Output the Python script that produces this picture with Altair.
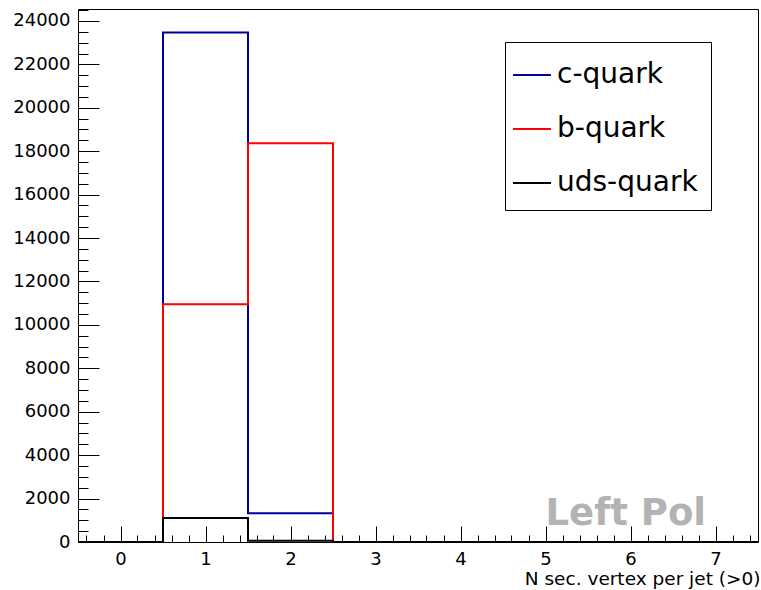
import altair as alt
import pandas as pd

# ---- data ----
bin_edges = [-0.5, 0.5, 1.5, 2.5, 3.5, 4.5, 5.5, 6.5, 7.5]
series_names = ["c-quark", "b-quark", "uds-quark"]
c_quark = [0, 23470, 1320, 0, 0, 0, 0, 0]
b_quark = [0, 10950, 18370, 0, 0, 0, 0, 0]
uds_quark = [0, 1100, 60, 0, 0, 0, 0, 0]
series_colors = ["#0000a0", "#ff0000", "#000000"]

x_major_ticks = [0, 1, 2, 3, 4, 5, 6, 7]
x_minor_ticks = [round(-0.4 + 0.2 * i, 1) for i in range(40)]
y_major_ticks = list(range(0, 24001, 2000))
y_minor_ticks = list(range(0, 24501, 500))

x_title = "N sec. vertex per jet (>0)"
annot_text = ["Left Pol"]
annot_x = [5.0]
annot_y = [760]

FONT = "DejaVu Sans"

# ---- build tables ----
rows = []
for name, vals in zip(series_names, [c_quark, b_quark, uds_quark]):
    for i, e in enumerate(bin_edges):
        v = vals[i] if i < len(vals) else vals[-1]
        rows.append({"series": name, "edge": e, "value": v})
df = pd.DataFrame(rows)
annot_df = pd.DataFrame({"t": annot_text, "x": annot_x, "y": annot_y})

W, H = 680, 533
x_scale = alt.Scale(domain=[-0.5, 7.5], nice=False, zero=False)
y_scale = alt.Scale(domain=[0, 24550], nice=False, zero=False)
color_scale = alt.Scale(domain=series_names, range=series_colors)

x_bottom = alt.Axis(
    orient="bottom", offset=-7, values=x_minor_ticks, tickSize=7, tickWidth=1,
    tickColor="black", domain=False, grid=False, labelOverlap=False, labelFlush=False,
    labelExpr="abs(datum.value - round(datum.value)) < 0.001 ? format(datum.value, 'd') : ''",
    labelPadding=8, labelFont=FONT, labelFontSize=18, labelColor="black",
    title=x_title, titleFont=FONT, titleFontSize=18.5, titleFontWeight="normal",
    titleColor="black", titleAnchor="end", titleAlign="right", titleBaseline="alphabetic",
    titleX=682, titleY=49,
)
y_left = alt.Axis(
    orient="left", offset=-10, values=y_minor_ticks, tickSize=10, tickWidth=1,
    tickColor="black", domain=False, grid=False, labelOverlap=False, labelFlush=False,
    labelExpr="datum.value % 2000 === 0 ? format(datum.value, 'd') : ''",
    labelPadding=8, labelFont=FONT, labelFontSize=18, labelColor="black",
    title=None,
)
x_top = alt.Axis(
    orient="top", offset=-H, values=x_major_ticks, tickSize=16, tickWidth=1,
    tickColor="black", domain=False, grid=False, labels=False, title=None,
)
y_right = alt.Axis(
    orient="right", offset=-W, values=y_major_ticks, tickSize=21, tickWidth=1,
    tickColor="black", domain=False, grid=False, labels=False, title=None,
)

legend = alt.Legend(
    title=None, orient="none", legendX=427, legendY=33, padding=13,
    strokeColor="black", fillColor="white", symbolType="stroke", symbolSize=1444,
    symbolStrokeWidth=2, symbolOffset=-6, labelFont=FONT,
    labelFontSize=28, labelColor="black", labelOffset=5, rowPadding=20, labelLimit=0,
)

base = alt.Chart(df)
layers = []
for i, name in enumerate(series_names):
    first = i == 0
    enc = dict(
        x=alt.X("edge:Q", scale=x_scale, axis=x_bottom) if first else alt.X("edge:Q", scale=x_scale, axis=None),
        y=alt.Y("value:Q", scale=y_scale, axis=y_left) if first else alt.Y("value:Q", scale=y_scale, axis=None),
        color=alt.Color("series:N", scale=color_scale, legend=legend),
    )
    layers.append(
        base.transform_filter(alt.datum.series == name)
        .mark_line(interpolate="step-after", strokeWidth=2)
        .encode(**enc)
    )

tick_layer = base.mark_line(opacity=0).encode(
    x=alt.X("edge:Q", scale=x_scale, axis=x_top),
    y=alt.Y("value:Q", scale=y_scale, axis=y_right),
    detail="series:N",
)

annot = alt.Chart(annot_df).mark_text(
    font="DejaVu Sans", fontWeight="bold", fontSize=37, color="#b3b3b3",
    align="left", baseline="alphabetic",
).encode(
    x=alt.X("x:Q", scale=x_scale, axis=None),
    y=alt.Y("y:Q", scale=y_scale, axis=None),
    text="t:N",
)

chart = alt.layer(*layers, tick_layer, annot).properties(
    width=W, height=H,
    autosize=alt.AutoSizeParams(type="none"),
    padding={"left": 78, "top": 9, "right": 3, "bottom": 48},
    background="white",
).configure_view(stroke="black", strokeWidth=1)

chart.save("out.html", embed_options={"renderer": "svg", "actions": False})
